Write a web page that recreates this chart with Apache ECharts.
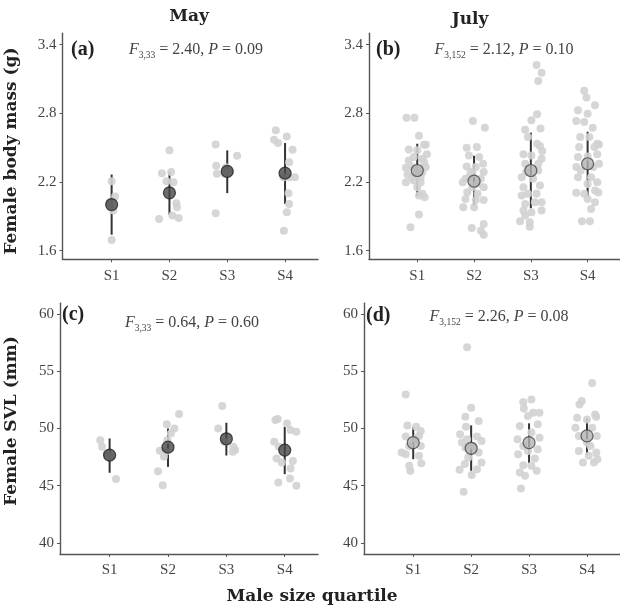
<!DOCTYPE html>
<html><head><meta charset="utf-8">
<script src="https://cdn.jsdelivr.net/npm/echarts@6/dist/echarts.min.js"></script>
<style>html,body{margin:0;padding:0;background:#fff}#c{width:620px;height:610px}</style>
</head><body><div id="c"></div>
<script>
// ---- categories and tick labels ----
const quartiles = ['S1', 'S2', 'S3', 'S4'];
const massTicks = [1.6, 2.2, 2.8, 3.4];
const svlTicks = [40, 45, 50, 55, 60];

// ---- raw points: [quartile index, jitter, value] ----
const massMay = [
  [1,0.00,2.208],[1,0.06,2.073],[1,0.00,1.694],[1,-0.03,2.024],[1,0.03,1.951],[1,-0.02,1.98],
  [2,0.00,2.477],[2,-0.13,2.278],[2,0.03,2.287],[2,-0.05,2.208],[2,0.07,2.199],[2,0.12,2.015],[2,0.13,1.980],[2,0.05,1.907],[2,0.16,1.886],[2,-0.18,1.878],
  [3,-0.20,2.529],[3,0.17,2.430],[3,-0.19,2.342],[3,-0.18,2.272],[3,-0.05,2.272],[3,0.04,2.287],[3,-0.20,1.927],[3,-0.02,2.33],
  [4,-0.16,2.652],[4,0.03,2.599],[4,-0.19,2.570],[4,-0.12,2.541],[4,0.13,2.482],[4,0.07,2.374],[4,-0.03,2.243],[4,0.17,2.243],[4,0.08,2.243],[4,0.06,2.103],[4,0.07,2.009],[4,0.03,1.936],[4,-0.02,1.775]
];
const massJul = [
  [1,-0.19,2.763],[1,-0.05,2.763],[1,0.03,2.605],[1,-0.15,2.485],[1,0.12,2.526],[1,0.15,2.526],[1,0.17,2.442],[1,-0.06,2.418],[1,0.09,2.404],[1,-0.20,2.325],[1,-0.09,2.331],[1,0.15,2.331],[1,0.09,2.287],[1,-0.17,2.266],[1,-0.20,2.199],[1,-0.06,2.214],[1,0.06,2.199],[1,0.00,2.155],[1,0.09,2.097],[1,0.03,2.082],[1,0.13,2.068],[1,0.03,1.916],[1,-0.12,1.805],[1,-0.03,2.257],[1,0.06,2.243],[1,-0.15,2.389],[1,0.12,2.374],[1,0.00,2.477],[1,-0.03,2.316],[1,0.03,2.278],[1,-0.09,2.243],
  [2,-0.02,2.734],[2,0.19,2.675],[2,-0.13,2.500],[2,0.05,2.506],[2,0.09,2.418],[2,-0.09,2.433],[2,-0.13,2.336],[2,0.16,2.360],[2,0.03,2.331],[2,-0.06,2.287],[2,0.17,2.287],[2,-0.15,2.228],[2,0.12,2.228],[2,-0.20,2.199],[2,-0.03,2.155],[2,0.17,2.155],[2,-0.12,2.111],[2,0.06,2.097],[2,0.03,2.044],[2,-0.15,2.053],[2,0.17,2.044],[2,-0.19,1.980],[2,0.00,1.980],[2,0.17,1.834],[2,-0.04,1.799],[2,0.12,1.775],[2,0.17,1.740],[2,-0.09,2.243],[2,0.06,2.184],[2,-0.03,2.272],
  [3,0.10,3.222],[3,0.19,3.155],[3,0.13,3.084],[3,-0.10,2.658],[3,0.11,2.792],[3,0.01,2.740],[3,0.17,2.667],[3,-0.05,2.594],[3,0.11,2.535],[3,0.16,2.515],[3,0.20,2.471],[3,-0.13,2.442],[3,0.01,2.433],[3,-0.10,2.360],[3,0.13,2.360],[3,0.19,2.404],[3,-0.16,2.243],[3,0.04,2.228],[3,0.16,2.170],[3,-0.13,2.155],[3,-0.05,2.097],[3,-0.16,2.082],[3,0.10,2.097],[3,-0.10,2.009],[3,0.07,2.024],[3,0.19,2.024],[3,-0.13,1.951],[3,0.01,1.936],[3,0.19,1.951],[3,-0.10,1.907],[3,-0.19,1.857],[3,-0.02,1.848],[3,-0.02,1.810],[3,0.13,2.301],[3,-0.08,2.287],
  [4,-0.06,2.997],[4,-0.02,2.938],[4,0.13,2.871],[4,-0.17,2.827],[4,0.00,2.798],[4,-0.20,2.734],[4,-0.06,2.725],[4,0.09,2.675],[4,-0.13,2.594],[4,0.03,2.594],[4,0.17,2.535],[4,0.20,2.529],[4,-0.15,2.506],[4,0.12,2.506],[4,0.17,2.442],[4,-0.17,2.418],[4,0.00,2.424],[4,-0.20,2.331],[4,0.10,2.331],[4,0.20,2.360],[4,-0.17,2.243],[4,0.06,2.243],[4,0.17,2.199],[4,-0.20,2.106],[4,-0.06,2.097],[4,0.13,2.126],[4,0.19,2.108],[4,0.00,2.053],[4,0.13,2.024],[4,0.06,1.965],[4,-0.10,1.857],[4,0.04,1.857],[4,-0.12,2.301],[4,0.00,2.184]
];
const svlMay = [
  [1,-0.16,48.98],[1,-0.13,48.40],[1,0.11,45.58],[1,-0.05,47.82],[1,0.01,47.53],
  [2,0.19,51.26],[2,-0.02,50.38],[2,0.11,50.00],[2,0.05,49.57],[2,-0.01,48.98],[2,-0.14,48.05],[2,-0.07,47.53],[2,-0.17,46.27],[2,-0.09,45.05],[2,-0.04,47.96],
  [3,-0.07,51.96],[3,-0.14,50.00],[3,-0.04,48.84],[3,0.12,48.40],[3,0.15,48.11],[3,0.11,47.96],
  [4,-0.16,50.73],[4,-0.12,50.82],[4,0.04,50.44],[4,0.10,49.86],[4,0.20,49.71],[4,-0.18,48.84],[4,-0.10,48.40],[4,-0.14,47.38],[4,-0.05,47.03],[4,0.14,47.15],[4,0.10,46.51],[4,0.09,45.63],[4,-0.11,45.28],[4,0.20,44.99]
];
const svlJul = [
  [1,-0.13,52.97],[1,-0.10,50.27],[1,0.05,50.16],[1,-0.13,49.29],[1,0.10,49.35],[1,0.13,48.48],[1,-0.20,47.90],[1,-0.13,47.75],[1,0.10,47.61],[1,0.14,46.97],[1,-0.05,46.31],[1,-0.07,46.74],[1,0.04,49.06],[1,-0.07,48.48],[1,0.13,49.78],
  [2,-0.07,57.10],[2,0.00,51.81],[2,-0.10,51.03],[2,0.13,50.65],[2,-0.09,50.16],[2,-0.19,49.49],[2,0.10,49.29],[2,-0.16,48.77],[2,0.18,48.91],[2,-0.10,48.33],[2,0.13,47.90],[2,-0.05,47.46],[2,-0.11,46.89],[2,0.18,47.03],[2,-0.20,46.39],[2,0.01,45.93],[2,0.10,46.45],[2,-0.13,44.48],[2,0.04,48.48],[2,-0.07,49.06],
  [3,-0.10,52.30],[3,0.04,52.53],[3,-0.09,51.75],[3,0.07,51.37],[3,0.18,51.37],[3,-0.02,51.08],[3,-0.16,50.21],[3,0.15,50.36],[3,0.04,49.64],[3,-0.20,49.06],[3,0.18,49.20],[3,-0.10,48.48],[3,0.15,48.19],[3,-0.19,47.75],[3,0.10,47.38],[3,-0.10,46.80],[3,0.04,46.74],[3,0.13,46.31],[3,-0.16,46.16],[3,-0.07,45.87],[3,-0.14,44.77],[3,-0.02,48.04],
  [4,0.09,53.98],[4,-0.09,52.39],[4,-0.13,52.10],[4,0.14,51.23],[4,-0.17,50.94],[4,0.00,50.79],[4,0.16,51.03],[4,-0.20,50.07],[4,0.09,50.07],[4,-0.14,49.35],[4,0.17,49.35],[4,0.06,48.48],[4,-0.14,48.04],[4,0.16,47.90],[4,-0.07,47.03],[4,0.12,47.03],[4,0.03,47.61],[4,0.18,47.32],[4,0.00,48.77]
];

// ---- group means and error bars ----
const massMayMean = [2.003, 2.106, 2.293, 2.278];
const massMayLow  = [1.740, 1.916, 2.103, 2.009];
const massMayHigh = [2.266, 2.290, 2.477, 2.541];
const massJulMean = [2.301, 2.208, 2.301, 2.360];
const massJulLow  = [2.076, 1.994, 1.971, 2.076];
const massJulHigh = [2.535, 2.430, 2.632, 2.640];
const svlMayMean = [47.67, 48.37, 49.10, 48.11];
const svlMayLow  = [46.13, 46.65, 47.64, 46.01];
const svlMayHigh = [49.13, 50.00, 50.50, 50.15];
const svlJulMean = [48.77, 48.27, 48.77, 49.35];
const svlJulLow  = [47.32, 46.31, 46.97, 47.70];
const svlJulHigh = [50.13, 50.27, 50.45, 50.88];

// ---- text ----
const panelLabels = ['(a)', '(b)', '(c)', '(d)'];
const stats = [['3,33','2.40','0.09'], ['3,152','2.12','0.10'], ['3,33','0.64','0.60'], ['3,152','2.26','0.08']];

const SERIF = '"Liberation Serif", "DejaVu Serif", serif';
const BOLD = '"DejaVu Serif", "Liberation Serif", serif';
const chart = echarts.init(document.getElementById('c'));

const grids = [
  {left: 62.5, top: 33.3, width: 255.5, height: 226},
  {left: 369, top: 33.3, width: 255.5, height: 226},
  {left: 60, top: 303.3, width: 258, height: 250.7},
  {left: 364, top: 303.3, width: 258, height: 250.7}
];
const axisLine = {lineStyle: {color: '#555', width: 1.4}};
const axisTick = {length: 3, lineStyle: {color: '#555', width: 1}};
const xAxes = grids.map((g, i) => ({
  type: 'value', gridIndex: i, min: 0.15, max: 4.57,
  axisLine: Object.assign({onZero: false}, axisLine),
  axisTick: Object.assign({customValues: [1,2,3,4]}, axisTick),
  axisLabel: {customValues: [1,2,3,4], formatter: v => quartiles[Math.round(v) - 1],
    color: '#444', fontFamily: SERIF, fontSize: 15, margin: 9},
  splitLine: {show: false}
}));
const yAxes = grids.map((g, i) => {
  const top = i < 2;
  return {
    type: 'value', gridIndex: i,
    min: top ? 1.525 : 39.04, max: top ? 3.5 : 60.93,
    axisLine: Object.assign({show: true, onZero: false}, axisLine),
    axisTick: Object.assign({show: true, customValues: top ? massTicks : svlTicks}, axisTick),
    axisLabel: {customValues: top ? massTicks : svlTicks,
      formatter: v => top ? v.toFixed(1) : String(v),
      color: '#444', fontFamily: SERIF, fontSize: 15, margin: 6},
    splitLine: {show: false}
  };
});

const rawSets = [massMay, massJul, svlMay, svlJul];
const meanSets = [massMayMean, massJulMean, svlMayMean, svlJulMean];
const lowSets = [massMayLow, massJulLow, svlMayLow, svlJulLow];
const highSets = [massMayHigh, massJulHigh, svlMayHigh, svlJulHigh];

const series = [];
rawSets.forEach((raw, i) => {
  series.push({
    type: 'scatter', xAxisIndex: i, yAxisIndex: i, symbolSize: 8, silent: true,
    itemStyle: {color: '#d2d2d2', opacity: 0.9},
    data: raw.map(d => [d[0] + d[1], d[2]])
  });
});
rawSets.forEach((raw, i) => {
  series.push({
    type: 'custom', xAxisIndex: i, yAxisIndex: i, silent: true,
    data: quartiles.map((q, k) => [k + 1, lowSets[i][k], highSets[i][k]]),
    renderItem: (params, api) => {
      const a = api.coord([api.value(0), api.value(1)]);
      const b = api.coord([api.value(0), api.value(2)]);
      return {type: 'line', shape: {x1: a[0], y1: a[1], x2: b[0], y2: b[1]},
        style: {stroke: '#333', lineWidth: 2}};
    }
  });
  const july = (i % 2) === 1;
  series.push({
    type: 'scatter', xAxisIndex: i, yAxisIndex: i, symbolSize: 12, silent: true,
    itemStyle: {color: july ? '#b3b3b3' : '#474747', borderColor: july ? '#444' : '#222', borderWidth: 1.2},
    data: meanSets[i].map((m, k) => [k + 1, m])
  });
});

const statPos = [[196, 50], [504, 50], [192, 323], [499, 317]];
const labelPos = [[71, 50], [376, 50], [62, 315], [366, 316]];
const graphic = [];
stats.forEach((s, i) => {
  graphic.push({
    type: 'text', x: statPos[i][0], y: statPos[i][1],
    style: {
      text: '{i|F}{s|' + s[0] + '}{n| = ' + s[1] + ', }{i|P}{n| = ' + s[2] + '}',
      align: 'center', verticalAlign: 'middle', fill: '#444',
      rich: {
        i: {fontFamily: SERIF, fontSize: 16, fontStyle: 'italic', fill: '#444', lineHeight: 20, verticalAlign: 'middle'},
        n: {fontFamily: SERIF, fontSize: 16, fill: '#444', lineHeight: 20, verticalAlign: 'middle'},
        s: {fontFamily: SERIF, fontSize: 9.5, fill: '#444', lineHeight: 20, verticalAlign: 'bottom', padding: [8, 0, 0, 0]}
      }
    }
  });
  graphic.push({
    type: 'text', x: labelPos[i][0], y: labelPos[i][1],
    style: {text: panelLabels[i], fontFamily: SERIF, fontSize: 20, fontWeight: 'bold', fill: '#222',
      align: 'left', verticalAlign: 'middle'}
  });
});
graphic.push(
  {type: 'text', x: 189, y: 17, style: {text: 'May', fontFamily: BOLD, fontSize: 17, fontWeight: 'bold', fill: '#222', align: 'center', verticalAlign: 'middle'}},
  {type: 'text', x: 470, y: 20, style: {text: 'July', fontFamily: BOLD, fontSize: 17, fontWeight: 'bold', fill: '#222', align: 'center', verticalAlign: 'middle'}},
  {type: 'text', x: 312, y: 597, style: {text: 'Male size quartile', fontFamily: BOLD, fontSize: 17, fontWeight: 'bold', fill: '#222', align: 'center', verticalAlign: 'middle'}},
  {type: 'text', x: 12, y: 151, rotation: Math.PI / 2, style: {text: 'Female body mass (g)', fontFamily: BOLD, fontSize: 17, fontWeight: 'bold', fill: '#222', align: 'center', verticalAlign: 'middle'}},
  {type: 'text', x: 12, y: 421, rotation: Math.PI / 2, style: {text: 'Female SVL (mm)', fontFamily: BOLD, fontSize: 17, fontWeight: 'bold', fill: '#222', align: 'center', verticalAlign: 'middle'}}
);

chart.setOption({
  animation: false,
  backgroundColor: '#fff',
  grid: grids,
  xAxis: xAxes,
  yAxis: yAxes,
  series: series,
  graphic: graphic
});
</script>
</body></html>
